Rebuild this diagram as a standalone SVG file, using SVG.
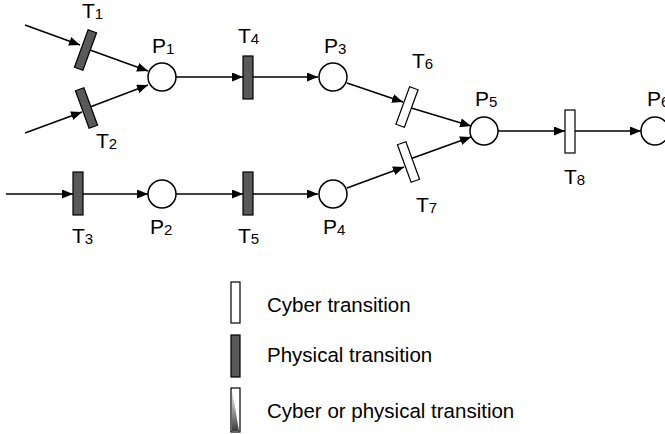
<svg xmlns="http://www.w3.org/2000/svg" width="665" height="434" viewBox="0 0 665 434">
<defs>
<marker id="ah" markerWidth="11" markerHeight="9" refX="11" refY="4.5" orient="auto" markerUnits="userSpaceOnUse"><path d="M0,0 L11,4.5 L0,9 z" fill="#000"/></marker>
<linearGradient id="mix" x1="0" y1="0" x2="0" y2="1"><stop offset="0" stop-color="#fff"/><stop offset="1" stop-color="#3c3c3c"/></linearGradient>
<style>
.arc{stroke:#000;stroke-width:1.5;fill:none;marker-end:url(#ah)}
.place{fill:#fff;stroke:#000;stroke-width:1.5}
.phys{fill:#595959;stroke:#000;stroke-width:1.2}
.cyber{fill:#fff;stroke:#000;stroke-width:1.2}
text{font-family:"Liberation Sans",Arial,sans-serif;font-size:21px;fill:#000}
.sub{font-size:15px}
.leg{font-size:20.5px}
</style>
</defs>
<rect width="665" height="434" fill="#fff"/>
<g id="connectors">
<line class="arc" x1="25" y1="25" x2="80" y2="45"/>
<line class="arc" x1="90" y1="50" x2="148" y2="71"/>
<line class="arc" x1="25" y1="133" x2="82" y2="112"/>
<line class="arc" x1="90" y1="107" x2="148" y2="85"/>
<line class="arc" x1="176" y1="77" x2="243" y2="77"/>
<line class="arc" x1="253" y1="77" x2="318" y2="77"/>
<line class="arc" x1="347" y1="83" x2="403" y2="102"/>
<line class="arc" x1="408" y1="107" x2="471" y2="126"/>
<line class="arc" x1="347" y1="188" x2="404" y2="167"/>
<line class="arc" x1="410" y1="159" x2="471" y2="137"/>
<line class="arc" x1="498" y1="131" x2="565" y2="131"/>
<line class="arc" x1="575" y1="131" x2="641" y2="131"/>
<line class="arc" x1="6" y1="194" x2="73" y2="194"/>
<line class="arc" x1="83" y1="194" x2="148" y2="194"/>
<line class="arc" x1="176" y1="194" x2="243" y2="194"/>
<line class="arc" x1="253" y1="194" x2="318" y2="194"/>
</g>
<g id="T1"><rect class="phys" x="81" y="30" width="9" height="40" transform="rotate(20 85.5 50)"/><text x="82" y="18">T<tspan class="sub" dy="1">1</tspan></text></g>
<g id="T2"><rect class="phys" x="82" y="88" width="9" height="40" transform="rotate(-20 86.5 108)"/><text x="96" y="148">T<tspan class="sub" dy="1">2</tspan></text></g>
<g id="T3"><rect class="phys" x="73" y="172" width="10" height="43"/><text x="72" y="243">T<tspan class="sub" dy="1">3</tspan></text></g>
<g id="T4"><rect class="phys" x="243" y="56" width="10" height="43"/><text x="238" y="43">T<tspan class="sub" dy="1">4</tspan></text></g>
<g id="T5"><rect class="phys" x="243" y="172" width="10" height="43"/><text x="238" y="243">T<tspan class="sub" dy="1">5</tspan></text></g>
<g id="T6"><rect class="cyber" x="402.5" y="87" width="9" height="40" transform="rotate(20 407 107)"/><text x="412" y="68">T<tspan class="sub" dy="1">6</tspan></text></g>
<g id="T7"><rect class="cyber" x="404" y="142" width="9" height="40" transform="rotate(-20 408.5 162)"/><text x="416" y="212">T<tspan class="sub" dy="1">7</tspan></text></g>
<g id="T8"><rect class="cyber" x="565" y="110" width="10" height="43"/><text x="564" y="184">T<tspan class="sub" dy="1">8</tspan></text></g>
<g id="P1"><circle class="place" cx="162" cy="77" r="14"/><text x="152" y="53">P<tspan class="sub" dy="1">1</tspan></text></g>
<g id="P2"><circle class="place" cx="162" cy="194" r="14"/><text x="150" y="234">P<tspan class="sub" dy="1">2</tspan></text></g>
<g id="P3"><circle class="place" cx="333" cy="77" r="14"/><text x="324" y="53">P<tspan class="sub" dy="1">3</tspan></text></g>
<g id="P4"><circle class="place" cx="333" cy="194" r="14"/><text x="323" y="234">P<tspan class="sub" dy="1">4</tspan></text></g>
<g id="P5"><circle class="place" cx="484" cy="131" r="14"/><text x="475" y="106">P<tspan class="sub" dy="1">5</tspan></text></g>
<g id="P6"><circle class="place" cx="655" cy="131" r="14"/><text x="647" y="106">P<tspan class="sub" dy="1">6</tspan></text></g>
<g id="legend">
<rect class="cyber" x="231" y="282" width="9" height="41"/>
<text class="leg" x="267" y="312">Cyber transition</text>
<rect class="phys" x="231" y="335" width="9" height="42"/>
<text class="leg" x="267" y="362">Physical transition</text>
<rect class="cyber" x="231" y="388" width="9" height="44"/>
<path d="M232,389 L232,431 L239,431 z" fill="url(#mix)"/>
<text class="leg" x="267" y="418">Cyber or physical transition</text>
</g>
</svg>
